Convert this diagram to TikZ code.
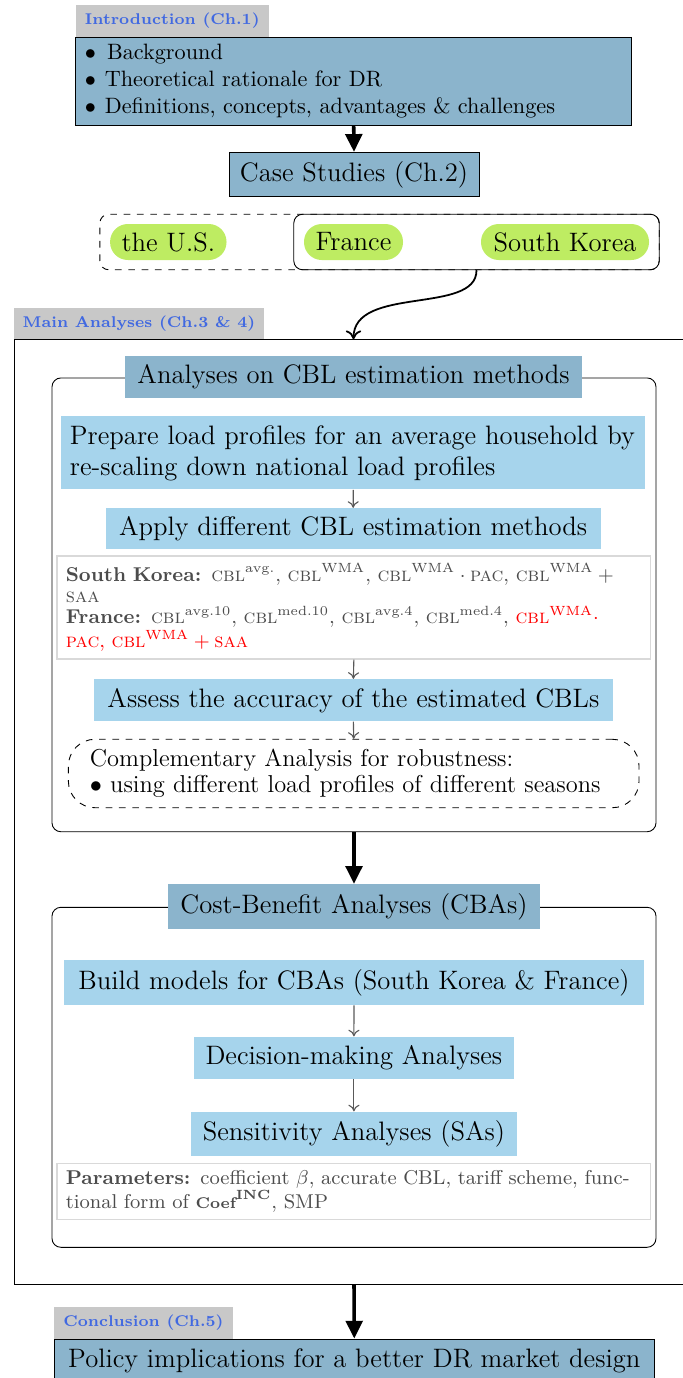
\documentclass[tikz,border=0pt]{standalone}
\usepackage{amsmath,amssymb}
\usepackage{xcolor}
\usetikzlibrary{arrows.meta,fit}

\definecolor{chapblue}{RGB}{139,180,204}
\definecolor{stepblue}{RGB}{166,212,236}
\definecolor{casegreen}{RGB}{190,236,98}
\definecolor{labelgray}{RGB}{200,200,200}
\definecolor{labelblue}{RGB}{65,105,225}

\begin{document}
\begin{tikzpicture}[x=0.45pt,y=0.45pt,yscale=-1,
    chaplabel/.style={fill=labelgray,text=labelblue,font=\scriptsize\bfseries,inner sep=0pt},
    chapbox/.style={draw,fill=chapblue,inner sep=0pt,font=\large},
    titlebox/.style={fill=chapblue,inner sep=0pt,font=\large},
    stepbox/.style={fill=stepblue,inner sep=0pt,font=\large},
    notebox/.style={draw=black!15,line width=0.6pt,text=black!70,font=\fontsize{9}{9.6}\selectfont,inner xsep=4pt,inner ysep=0pt,align=left},
    casepill/.style={fill=casegreen,rounded corners=8pt,inner sep=0pt,minimum height=16.2pt,font=\large},
    groupbox/.style={draw,rounded corners=4pt,inner sep=0pt,minimum width=271.8pt},
    bigarrow/.style={line width=1.6pt,-{Triangle[length=8pt,width=7.5pt]}},
    smallarrow/.style={draw=black!65,line width=0.5pt,-{To[length=3pt,width=5pt]}}
  ]
  \useasboundingbox (0,0) rectangle (683,1378);

  % Introduction
  \node[chaplabel,minimum width=86.85pt,minimum height=14.3pt] (introlbl) at (172.3,20.9) {Introduction (Ch.1)};
  \node[chapbox,font=\normalsize,minimum width=250.1pt,minimum height=39.6pt,text width=242pt,inner xsep=4pt,align=left] (intro) at (353.7,81)
    {$\bullet$\hspace{0.5em}Background\\ $\bullet$\hspace{0.4em}Theoretical rationale for DR\\ $\bullet$\hspace{0.4em}Definitions, concepts, advantages \& challenges};

  % Case studies
  \node[chapbox,minimum width=112.5pt,minimum height=20pt] (cases) at (354,174.5) {Case Studies (Ch.2)};
  \node[casepill,minimum width=52.4pt] (us) at (168.3,242) {the U.S.};
  \node[casepill,minimum width=44.55pt] (fr) at (353.5,242) {France};
  \node[casepill,minimum width=75.6pt] (sk) at (565,242) {South Korea};
  \node[fit=(us)(sk),draw,dashed,rounded corners=4pt,inner xsep=4.4pt,inner ysep=4.2pt] (allcases) {};
  \node[fit=(fr)(sk),draw,rounded corners=4pt,inner xsep=4.4pt,inner ysep=4.2pt] (studied) {};

  %Straight Lines
  \draw[bigarrow] (intro.south) -- (cases.north);

  % Main analyses frame
  \node[chaplabel,minimum width=112.5pt,minimum height=14pt] (mainlbl) at (139,324) {Main Analyses (Ch.3 \& 4)};
  \coordinate (mtop) at (353.5,339.3);
  \coordinate (mbot) at (354,1284.3);
  \draw (684,339.3) -- (14,339.3) -- (14,1284.3) -- (684,1284.3);

  %Curve Lines
  \draw[thick,-{To[length=4pt,width=7pt]}] (studied.south) .. controls (476.7,315) and (353.5,285) .. (mtop);

  % CBL estimation block
  \node[groupbox,minimum height=204.2pt] (grpA) at (354,604.85) {};
  \node[titlebox,minimum width=205.65pt,minimum height=18.8pt] (titleA) at (353.5,377) {Analyses on CBL estimation methods};
  \node[stepbox,minimum width=263pt,minimum height=32.8pt,text width=255pt,inner xsep=4pt,align=left] (prep) at (353.25,452.9)
    {Prepare load profiles for an average household by\\ re-scaling down national load profiles};
  \node[stepbox,minimum width=222.7pt,minimum height=18.45pt] (apply) at (353.2,528.8) {Apply different CBL estimation methods};
  \node[notebox,minimum width=267.2pt,minimum height=46.35pt,text width=259.2pt] (methods) at (353.85,607.5)
    {\textbf{South Korea:} \textsc{cbl}$^{\text{avg.}}$, \textsc{cbl}$^{\text{WMA}}$, \textsc{cbl}$^{\text{WMA}}\cdot{}$\textsc{pac}, \textsc{cbl}$^{\text{WMA}}+{}$\\
     \textsc{saa}\\
     \textbf{France:} \textsc{cbl}$^{\text{avg.10}}$, \textsc{cbl}$^{\text{med.10}}$, \textsc{cbl}$^{\text{avg.4}}$, \textsc{cbl}$^{\text{med.4}}$, {\color{red}\textsc{cbl}$^{\text{WMA}}\cdot$}\\
     {\color{red}\textsc{pac}, \textsc{cbl}$^{\text{WMA}}+{}$\textsc{saa}}};
  \node[stepbox,minimum width=233.5pt,minimum height=18.8pt] (assess) at (353.4,700.2) {Assess the accuracy of the estimated CBLs};
  \node[draw,dashed,rounded corners=12pt,font=\fontsize{11}{11.6}\selectfont,minimum width=256.8pt,minimum height=30.8pt,text width=237.4pt,inner xsep=9.7pt,inner ysep=0pt,align=left] (robust) at (353.7,773.5)
    {Complementary Analysis for robustness:\\ $\bullet$ using different load profiles of different seasons};

  %Straight Lines
  \draw[smallarrow] (prep.south) -- (apply.north);
  \draw[smallarrow] (methods.south) -- (assess.north);
  \draw[smallarrow] (assess.south) -- (robust.north);

  % Cost-benefit block
  \node[groupbox,minimum height=153pt] (grpB) at (354,1077.3) {};
  \node[titlebox,minimum width=167.4pt,minimum height=20.1pt] (titleB) at (354,906.6) {Cost-Benefit Analyses (CBAs)};
  \node[stepbox,minimum width=261pt,minimum height=20.25pt] (build) at (354,982.5) {Build models for CBAs (South Korea \& France)};
  \node[stepbox,minimum width=144.1pt,minimum height=19pt] (decide) at (353.9,1057.9) {Decision-making Analyses};
  \node[stepbox,minimum width=146.8pt,minimum height=19.9pt] (sens) at (353.9,1133.9) {Sensitivity Analyses (SAs)};
  \node[notebox,minimum width=267.2pt,minimum height=25.2pt,text width=259.2pt] (params) at (353.85,1191.3)
    {\textbf{Parameters:} coefficient $\beta$, accurate CBL, tariff scheme, func-\\
     tional form of {\scriptsize\bfseries Coef}$^{\textbf{INC}}$, SMP};

  %Straight Lines
  \draw[bigarrow] (grpA.south) -- (titleB.north);
  \draw[smallarrow] (build.south) -- (decide.north);
  \draw[smallarrow] (decide.south) -- (sens.north);

  % Conclusion
  \node[chaplabel,minimum width=80.55pt,minimum height=14.7pt] (conclbl) at (143.5,1323) {Conclusion (Ch.5)};
  \node[chapbox,minimum width=270.3pt,minimum height=19.8pt] (policy) at (354.3,1361) {Policy implications for a better DR market design};

  %Straight Lines
  \draw[bigarrow] (mbot) -- (policy.north);
\end{tikzpicture}
\end{document}
